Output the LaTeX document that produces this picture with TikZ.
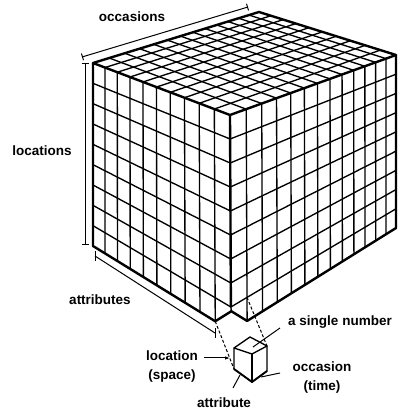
\documentclass[tikz,border=0pt]{standalone}
\usepackage{fontspec}
\setmainfont{Liberation Sans}
\usetikzlibrary{arrows.meta, positioning, calc}

\begin{document}
\begin{tikzpicture}[x=1pt, y=1pt,
  declare function={persp(\t,\q)=\t/(\t+\q*(1-\t));},
  gridline/.style={line width=1.35pt},
  outline/.style={line width=2.4pt, line join=round},
  dimline/.style={line width=1pt, {Bar[width=7pt]}-{Bar[width=7pt]}},
  dashline/.style={line width=1pt, dash pattern=on 3pt off 2pt},
  leader/.style={line width=1pt},
  pointer/.style={line width=1pt, -{Latex[length=5pt, width=3.5pt]}},
  tag/.style={font=\bfseries\fontsize{13.5}{19}\selectfont, align=center, inner sep=0pt}
]
\useasboundingbox (0,0) rectangle (400,412);

% Corners of the big block
\coordinate (tl) at (93,349);
\coordinate (tb) at (259,400);
\coordinate (tr) at (396,357);
\coordinate (tf) at (230,297);
\coordinate (bl) at (93,166);
\coordinate (bf) at (231,81);
\coordinate (br) at (396,184);

% Missing cube at the front corner
\pgfmathsetmacro\sL{persp(0.9,1.16)}
\pgfmathsetmacro\sR{persp(1/13,0.77)}
\coordinate (notchL) at ($(bl)!\sL!(bf)$);
\coordinate (notchR) at ($(bf)!\sR!(br)$);
\coordinate (frontC) at ($(tf)!0.8889!(bf)$);
\coordinate (rightC) at ($(tr)!0.8889!(br)$);
\coordinate (notchI) at ($(notchL)+(notchR)-(bf)$);
\coordinate (notchT) at ($(frontC)!\sR!(rightC)$);

% Left face
\foreach \i in {1,...,9}{
  \pgfmathsetmacro\s{persp(\i/10,1.16)}
  \draw[gridline] ($(tl)!\s!(tf)$) -- ($(bl)!\s!(bf)$);
}
\foreach \k in {1,...,8}{
  \pgfmathsetmacro\s{\k/9}
  \draw[gridline] ($(tl)!\s!(bl)$) -- ($(tf)!\s!(bf)$);
}

% Right face
\foreach \j in {1,...,12}{
  \pgfmathsetmacro\s{persp(\j/13,0.77)}
  \draw[gridline] ($(tf)!\s!(tr)$) -- ($(bf)!\s!(br)$);
}
\foreach \k in {1,...,8}{
  \pgfmathsetmacro\s{\k/9}
  \draw[gridline] ($(tf)!\s!(bf)$) -- ($(tr)!\s!(br)$);
}

% Top face
\foreach \j in {1,...,12}{
  \pgfmathsetmacro\s{persp(\j/13,0.77)}
  \draw[gridline] ($(tl)!\s!(tb)$) -- ($(tf)!\s!(tr)$);
}
\foreach \i in {1,...,9}{
  \pgfmathsetmacro\s{persp(\i/10,1.16)}
  \draw[gridline] ($(tl)!\s!(tf)$) -- ($(tb)!\s!(tr)$);
}

% Outline
\draw[outline] (tl) -- (tb) -- (tr) -- (tf) -- cycle;
\draw[outline] (tl) -- (bl) -- (notchL) -- (notchI) -- (notchR) -- (br) -- (tr);
\draw[outline] (tf) -- (frontC);
\draw[gridline] (notchI) -- (frontC);

% Dimensions
\coordinate (occA) at (82,355);
\coordinate (occB) at (248,405);
\draw[dimline] (occA) -- (occB);
\node[tag] (occasions) at (132,395) {occasions};

\coordinate (locA) at (85,349);
\coordinate (locB) at (85,167);
\draw[dimline] (locA) -- (locB);
\node[tag] (locations) at (42,261) {locations};

\coordinate (attA) at (95,156);
\coordinate (attB) at (215,79);
\draw[leader] (attA) -- (attB);
\draw[leader] (attA) ++(0,-5) -- ++(0,10);
\draw[leader] (attB) ++(0,-5) -- ++(0,10);
\node[tag] (attributes) at (100,112) {attributes};

% Single cell
\coordinate (ctl) at (234,64);
\coordinate (ctb) at (250,75);
\coordinate (ctr) at (267,66);
\coordinate (ctf) at (252,58);
\coordinate (cbf) at (252,30);
\coordinate (cbl) at (234,43);
\coordinate (cbr) at (267,41);
\draw[gridline, line join=round] (ctl) -- (ctb) -- (ctr) -- (ctf) -- cycle;
\draw[gridline, line join=round] (ctl) -- (cbl) -- (cbf) -- (cbr) -- (ctr);
\draw[outline] (ctf) -- (cbf);
\draw[line width=1.8pt] (cbl) -- (cbf) -- (cbr);

\draw[dashline] (notchL) -- (cbl);
\draw[dashline] (notchT) -- (ctr);

% Labels of the cell
\node[tag] (single) at (340,90) {a single number};
\coordinate (singleA) at (280,84);
\coordinate (singleB) at (253,65);
\draw[leader] (singleA) -- (singleB);

\node[tag] (location) at (172,45) {location\\(space)};
\coordinate (locationA) at (204,54);
\coordinate (locationB) at (230,54);
\draw[pointer] (locationA) -- (locationB);

\node[tag] (occasion) at (322,34) {occasion\\(time)};
\coordinate (occasionA) at (280,39);
\coordinate (occasionB) at (261,35);
\draw[leader] (occasionA) -- (occasionB);

\node[tag] (attribute) at (224,9) {attribute};
\coordinate (attributeA) at (233,24);
\coordinate (attributeB) at (240,37);
\draw[leader] (attributeA) -- (attributeB);

\end{tikzpicture}
\end{document}
